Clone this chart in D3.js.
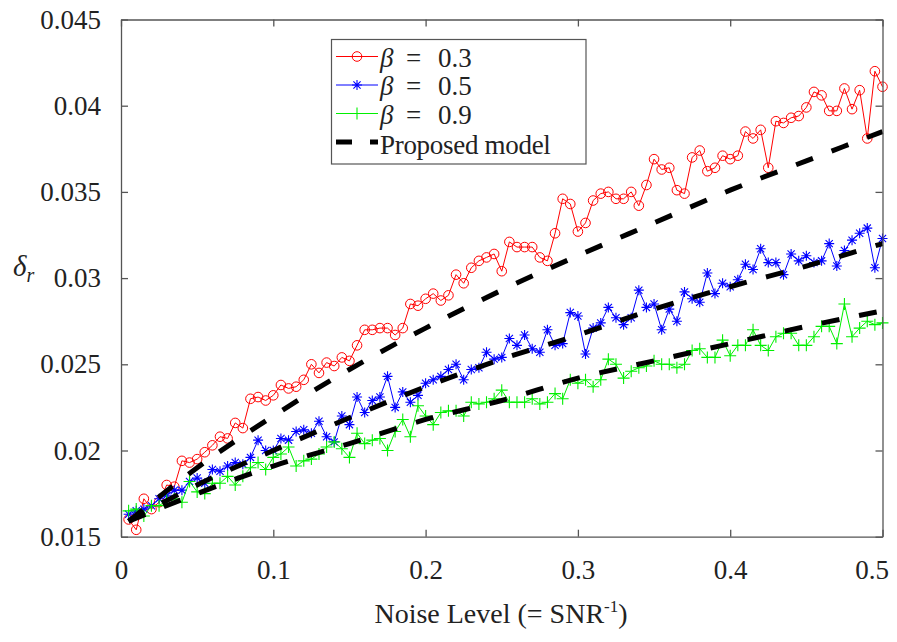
<!DOCTYPE html>
<html>
<head>
<meta charset="utf-8">
<script src="https://cdn.jsdelivr.net/npm/d3@7"></script>
<style>
  body { margin: 0; background: #fff; }
  svg text { font-family: "Liberation Serif", "Times New Roman", serif; fill: #222; }
</style>
</head>
<body>
<script>
// noise level (= 1/SNR)
var noise = [0.005,0.01,0.015,0.02,0.025,0.03,0.035,0.04,0.045,0.05,
	0.055,0.06,0.065,0.07,0.075,0.08,0.085,0.09,0.095,0.1,
	0.105,0.11,0.115,0.12,0.125,0.13,0.135,0.14,0.145,0.15,
	0.155,0.16,0.165,0.17,0.175,0.18,0.185,0.19,0.195,0.2,
	0.205,0.21,0.215,0.22,0.225,0.23,0.235,0.24,0.245,0.25,
	0.255,0.26,0.265,0.27,0.275,0.28,0.285,0.29,0.295,0.3,
	0.305,0.31,0.315,0.32,0.325,0.33,0.335,0.34,0.345,0.35,
	0.355,0.36,0.365,0.37,0.375,0.38,0.385,0.39,0.395,0.4,
	0.405,0.41,0.415,0.42,0.425,0.43,0.435,0.44,0.445,0.45,
	0.455,0.46,0.465,0.47,0.475,0.48,0.485,0.49,0.495,0.5];

var beta03 = [0.0160,0.0154,0.0172,0.0166,0.0170,0.0180,0.0179,0.0194,0.0193,0.0195,
	0.0199,0.0203,0.0208,0.0207,0.0216,0.0213,0.0230,0.0231,0.0229,0.0232,
	0.0238,0.0236,0.0237,0.0241,0.0250,0.0245,0.0251,0.0249,0.0254,0.0252,
	0.0261,0.0270,0.0270,0.0271,0.0271,0.0267,0.0271,0.0285,0.0284,0.0288,
	0.0291,0.0287,0.0290,0.0302,0.0297,0.0306,0.0310,0.0312,0.0314,0.0304,
	0.0321,0.0318,0.0318,0.0318,0.0312,0.0310,0.0326,0.0346,0.0343,0.0327,
	0.0332,0.0345,0.0349,0.0350,0.0346,0.0346,0.0350,0.0342,0.0354,0.0369,
	0.0363,0.0364,0.0351,0.0349,0.0370,0.0374,0.0362,0.0364,0.0371,0.0369,
	0.0371,0.0385,0.0381,0.0386,0.0364,0.0391,0.0390,0.0393,0.0394,0.0399,
	0.0408,0.0406,0.0397,0.0397,0.0410,0.0398,0.0409,0.0381,0.0420,0.0411];

var beta05 = [0.0163,0.0165,0.0166,0.0168,0.0172,0.0174,0.0177,0.0177,0.0182,0.0184,
	0.0181,0.0189,0.0188,0.0191,0.0193,0.0192,0.0196,0.0206,0.0200,0.0200,
	0.0207,0.0206,0.0211,0.0212,0.0210,0.0217,0.0208,0.0205,0.0220,0.0215,
	0.0231,0.0222,0.0229,0.0231,0.0243,0.0225,0.0234,0.0228,0.0232,0.0239,
	0.0241,0.0243,0.0247,0.0250,0.0241,0.0247,0.0248,0.0257,0.0253,0.0254,
	0.0265,0.0261,0.0267,0.0259,0.0257,0.0270,0.0261,0.0262,0.0280,0.0278,
	0.0256,0.0271,0.0274,0.0283,0.0277,0.0273,0.0277,0.0293,0.0283,0.0285,
	0.0270,0.0282,0.0275,0.0292,0.0288,0.0286,0.0303,0.0291,0.0297,0.0295,
	0.0299,0.0308,0.0305,0.0317,0.0309,0.0309,0.0302,0.0314,0.0310,0.0313,
	0.0309,0.0310,0.0320,0.0307,0.0316,0.0322,0.0326,0.0329,0.0306,0.0323];

var beta09 = [0.0165,0.0166,0.0162,0.0168,0.0168,0.0171,0.0172,0.0170,0.0182,0.0176,
	0.0175,0.0181,0.0181,0.0185,0.0180,0.0185,0.0190,0.0193,0.0189,0.0196,
	0.0198,0.0202,0.0191,0.0194,0.0195,0.0198,0.0202,0.0205,0.0201,0.0196,
	0.0210,0.0204,0.0206,0.0207,0.0200,0.0211,0.0218,0.0208,0.0226,0.0220,
	0.0215,0.0222,0.0223,0.0223,0.0220,0.0228,0.0227,0.0228,0.0230,0.0235,
	0.0228,0.0228,0.0228,0.0230,0.0227,0.0228,0.0233,0.0230,0.0241,0.0239,
	0.0241,0.0237,0.0241,0.0253,0.0250,0.0242,0.0246,0.0248,0.0249,0.0252,
	0.0250,0.0250,0.0248,0.0250,0.0258,0.0259,0.0254,0.0254,0.0264,0.0255,
	0.0261,0.0261,0.0270,0.0261,0.0258,0.0266,0.0268,0.0268,0.0261,0.0261,
	0.0266,0.0272,0.0272,0.0262,0.0285,0.0266,0.0271,0.0275,0.0273,0.0274];

// proposed model, read at a coarser grid
var modelNoise = [0.005,0.05,0.1,0.15,0.2,0.25,0.3,0.35,0.4,0.45,0.5];
var model03 = [0.0159,0.0190,0.0220,0.0247,0.0271,0.0293,0.0313,0.0332,0.0351,0.0368,0.0385];
var model05 = [0.0159,0.0180,0.0200,0.0219,0.0237,0.0253,0.0267,0.0282,0.0295,0.0307,0.0320];
var model09 = [0.0159,0.0175,0.0191,0.0204,0.0218,0.0229,0.0242,0.0252,0.0262,0.0272,0.0281];

var xTicks = [0,0.1,0.2,0.3,0.4,0.5];
var xTickLabels = ["0","0.1","0.2","0.3","0.4","0.5"];
var yTicks = [0.015,0.02,0.025,0.03,0.035,0.04,0.045];
var yTickLabels = ["0.015","0.02","0.025","0.03","0.035","0.04","0.045"];

var legendValues = ["0.3","0.5","0.9"];

var W = 897, H = 642;
var plotL = 121, plotR = 882.5, plotT = 19.5, plotB = 536.7;
var serif = "'Liberation Serif', 'Times New Roman', serif";

var svg = d3.select("body").append("svg")
	.attr("width", W)
	.attr("height", H)
	.style("background", "#fff")
	.style("font-family", serif);

var x = d3.scaleLinear().domain([0, 0.5]).range([plotL, plotR]);
var y = d3.scaleLinear().domain([0.015, 0.045]).range([plotB, plotT]);

var axisColor = "#555";

// data series
var series = [
	{vals: beta03, color: "#ff0000", marker: "circle"},
	{vals: beta05, color: "#0000ff", marker: "star"},
	{vals: beta09, color: "#00f000", marker: "plus"}
];

var starPath = "M-5,0H5M0,-5V5M-3.6,-3.6L3.6,3.6M-3.6,3.6L3.6,-3.6";
var plusPath = "M-6,0H6M0,-6V6";

function drawMarker(g, type, color) {
	if (type == "circle") {
		g.append("circle").attr("r", 4.8)
			.attr("fill", "none").attr("stroke", color).attr("stroke-width", 1);
	} else {
		g.append("path").attr("d", type == "star" ? starPath : plusPath)
			.attr("fill", "none").attr("stroke", color).attr("stroke-width", 1.1);
	}
}

var line = d3.line()
	.x(function(d, i) { return x(noise[i]); })
	.y(function(d) { return y(d); });

series.forEach(function(s) {
	svg.append("path")
		.datum(s.vals)
		.attr("d", line)
		.attr("fill", "none")
		.attr("stroke", s.color)
		.attr("stroke-width", 1);

	svg.selectAll(null)
		.data(s.vals)
		.enter().append("g")
		.attr("transform", function(d, i) { return "translate(" + x(noise[i]) + "," + y(d) + ")"; })
		.each(function() { drawMarker(d3.select(this), s.marker, s.color); });
});

// proposed model (dashed)
var modelLine = d3.line()
	.x(function(d, i) { return x(modelNoise[i]); })
	.y(function(d) { return y(d); })
	.curve(d3.curveMonotoneX);

[model03, model05, model09].forEach(function(m) {
	svg.append("path")
		.datum(m)
		.attr("d", modelLine)
		.attr("fill", "none")
		.attr("stroke", "#000")
		.attr("stroke-width", 5)
		.attr("stroke-dasharray", "18,20");
});

// axes, ticks inward on all four sides
svg.append("g")
	.attr("class", "xaxis")
	.attr("transform", "translate(0," + plotB + ")")
	.call(d3.axisBottom(x).tickValues(xTicks).tickSize(-7).tickSizeOuter(0).tickPadding(23)
		.tickFormat(function(d, i) { return xTickLabels[i]; }));

svg.append("g")
	.attr("transform", "translate(" + plotL + ",0)")
	.call(d3.axisLeft(y).tickValues(yTicks).tickSize(-7).tickSizeOuter(0).tickPadding(20)
		.tickFormat(function(d, i) { return yTickLabels[i]; }));

svg.append("g")
	.attr("transform", "translate(0," + plotT + ")")
	.call(d3.axisTop(x).tickValues(xTicks).tickSize(-7).tickSizeOuter(0).tickFormat(""));

svg.append("g")
	.attr("transform", "translate(" + plotR + ",0)")
	.call(d3.axisRight(y).tickValues(yTicks).tickSize(-7).tickSizeOuter(0).tickFormat(""));

svg.selectAll("g").attr("font-family", null);
svg.selectAll(".domain, .tick line").attr("stroke", axisColor).attr("stroke-width", 1.3);
svg.selectAll(".tick text")
	.style("font-family", serif)
	.style("font-size", "27px")
	.style("fill", "#222");

// last x label is pulled in so it stays inside the window
svg.selectAll(".xaxis .tick text")
	.filter(function(d) { return d == 0.5; })
	.attr("text-anchor", "end")
	.attr("dx", 6);

// axis labels
var xl = svg.append("text")
	.attr("x", 501)
	.attr("y", 623)
	.attr("text-anchor", "middle")
	.style("font-size", "28px");
xl.append("tspan").text("Noise Level (= SNR");
xl.append("tspan").style("font-size", "17px").attr("dy", -11).text("-1");
xl.append("tspan").attr("dy", 11).text(")");

var yl = svg.append("text")
	.attr("x", 13)
	.attr("y", 276)
	.style("font-size", "29px")
	.style("font-style", "italic");
yl.append("tspan").text("\u03b4");
yl.append("tspan").style("font-size", "20px").attr("dy", 6).text("r");

// legend
var lg = svg.append("g");
lg.append("rect")
	.attr("x", 331.5).attr("y", 39.5)
	.attr("width", 254.5).attr("height", 124.5)
	.attr("fill", "#fff")
	.attr("stroke", axisColor)
	.attr("stroke-width", 1.2);

var rowY = [56.5, 85, 113.5, 142];

series.forEach(function(s, i) {
	lg.append("line")
		.attr("x1", 336).attr("x2", 378)
		.attr("y1", rowY[i]).attr("y2", rowY[i])
		.attr("stroke", s.color).attr("stroke-width", 1);
	var m = lg.append("g").attr("transform", "translate(357," + rowY[i] + ")");
	drawMarker(m, s.marker, s.color);
	var t = lg.append("text")
		.attr("y", rowY[i] + 10)
		.style("font-size", "27px");
	t.append("tspan").attr("x", 380).style("font-style", "italic").text("\u03b2");
	t.append("tspan").attr("x", 406).text("=");
	t.append("tspan").attr("x", 438).text(legendValues[i]);
});

lg.append("line")
	.attr("x1", 336).attr("x2", 378)
	.attr("y1", rowY[3]).attr("y2", rowY[3])
	.attr("stroke", "#000").attr("stroke-width", 5)
	.attr("stroke-dasharray", "16,18");
lg.append("text")
	.attr("x", 380)
	.attr("y", rowY[3] + 12)
	.style("font-size", "27px")
	.style("letter-spacing", "-0.3px")
	.text("Proposed model");
</script>
</body>
</html>
